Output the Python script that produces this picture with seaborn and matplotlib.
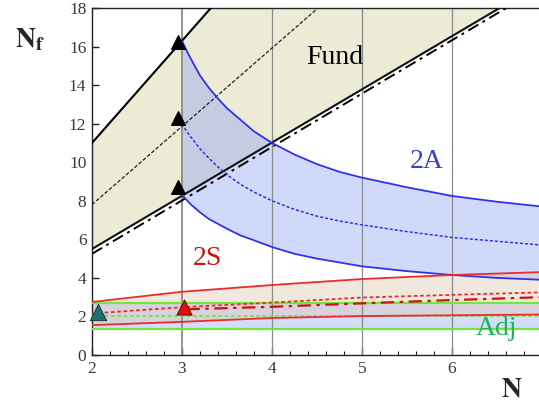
import numpy as np
import matplotlib
matplotlib.use("Agg")
import matplotlib.pyplot as plt
import seaborn as sns

# straight boundaries (Fund region)
n_lin = [2, 7]
fund_hi = [11.0, 37.5]
fund_mid = [7.8, 28.1]
fund_lo = [5.5, 19.3]
fund_bound = [5.25, 19.1]

# 2A curves
n_2a = [3, 3.05, 3.1, 3.2, 3.3, 3.4, 3.5, 3.65, 3.8, 4, 4.25, 4.5, 4.75, 5, 5.5, 6, 6.5, 7]
a_hi = [16.3, 15.8, 15.35, 14.5, 13.85, 13.3, 12.8, 12.2, 11.6, 11.0, 10.4, 9.9, 9.5, 9.2, 8.7, 8.25, 7.95, 7.7]
a_mid = [12.0, 11.6, 11.3, 10.7, 10.2, 9.75, 9.35, 8.85, 8.45, 8.0, 7.55, 7.2, 6.95, 6.75, 6.4, 6.1, 5.9, 5.7]
a_lo = [8.3, 8.05, 7.8, 7.4, 7.05, 6.8, 6.55, 6.2, 5.95, 5.6, 5.25, 5.0, 4.8, 4.6, 4.35, 4.15, 4.0, 3.9]

# 2S curves
n_s = [2, 3, 4, 5, 6, 7]
s_hi = [2.75, 3.28, 3.63, 3.94, 4.15, 4.3]
s_lo = [1.55, 1.72, 1.92, 2.02, 2.06, 2.1]
s_dash = [2.15, 2.48, 2.72, 2.98, 3.12, 3.25]
n_sdd = [3.05, 4, 5, 6, 7]
s_dd = [2.37, 2.5, 2.68, 2.85, 3.0]

# Adj lines
adj_hi = [2.72, 2.72]
adj_mid = [2.04, 2.04]
adj_lo = [1.35, 1.35]

# markers
tri_n = [2.96, 2.96, 2.96]
tri_nf = [16.25, 12.3, 8.7]
teal_pt = (2.07, 2.25)
red_pt = (3.02, 2.5)

x_ticks = [2, 3, 4, 5, 6, 7]
x_ticklabels = ['2', '3', '4', '5', '6', '']

sns.set_style("ticks")
plt.rcParams['font.family'] = ['Liberation Serif', 'DejaVu Serif']
plt.rcParams['mathtext.fontset'] = 'stix'

fig = plt.figure(figsize=(5.39, 4.08), dpi=100)
ax = fig.add_axes([92 / 539, 53 / 408, 450 / 539, 347 / 408])

# fills
ax.fill_between(n_lin, fund_lo, fund_hi, color='#ecebd5', lw=0, zorder=1)
ax.fill_between(n_2a, a_lo, a_hi, color='#7d92f5', alpha=0.35, lw=0, zorder=1)
ax.fill_between(n_lin, adj_lo, adj_hi, color='#7d92f5', alpha=0.33, lw=0, zorder=1)
ax.fill_between(n_s, s_lo, s_hi, color='#dcc6b0', alpha=0.42, lw=0, zorder=1)

for gx in [3, 4, 5, 6]:
    ax.axvline(gx, color='#8a8a8a', lw=1.3 if gx == 3 else 0.9, zorder=2)

# Fund lines
sns.lineplot(x=n_lin, y=fund_hi, ax=ax, color='black', lw=1.5, zorder=3)
sns.lineplot(x=n_lin, y=fund_mid, ax=ax, color='#222222', lw=0.9, linestyle=(0, (3, 1.5)), zorder=3)
sns.lineplot(x=n_lin, y=fund_lo, ax=ax, color='#111111', lw=1.5, zorder=3)
sns.lineplot(x=n_lin, y=fund_bound, ax=ax, color='black', lw=1.4, linestyle=(0, (6, 2.5, 1.5, 2.5)), zorder=3)

# 2A lines
sns.lineplot(x=n_2a, y=a_hi, ax=ax, color='#2f34e8', lw=1.3, zorder=3)
sns.lineplot(x=n_2a, y=a_mid, ax=ax, color='#2f34e8', lw=1.1, linestyle=(0, (2, 1.3)), zorder=3)
sns.lineplot(x=n_2a, y=a_lo, ax=ax, color='#2f34e8', lw=1.3, zorder=3)

# Adj lines
sns.lineplot(x=n_lin, y=adj_hi, ax=ax, color='#6fe83c', lw=1.6, zorder=3)
sns.lineplot(x=n_lin, y=adj_mid, ax=ax, color='#6fe83c', lw=1.3, linestyle=(0, (2, 1.5)), zorder=3)
sns.lineplot(x=n_lin, y=adj_lo, ax=ax, color='#6fe83c', lw=1.6, zorder=3)

# 2S lines
sns.lineplot(x=n_s, y=s_hi, ax=ax, color='#ee2a2a', lw=1.3, zorder=3)
sns.lineplot(x=n_s, y=s_lo, ax=ax, color='#ee2a2a', lw=1.3, zorder=3)
sns.lineplot(x=n_s, y=s_dash, ax=ax, color='#ee2a2a', lw=1.3, linestyle=(0, (2, 1.5)), zorder=3)
sns.lineplot(x=n_sdd, y=s_dd, ax=ax, color='#cc1111', lw=1.6, linestyle=(0, (6, 2.5, 1.5, 2.5)), zorder=3)

# triangles
ax.scatter(tri_n, tri_nf, marker='^', s=95, color='black', zorder=5)
ax.scatter([teal_pt[0]], [teal_pt[1]], marker='^', s=140, color='#1d7070',
           edgecolor='#0d3030', lw=0.6, zorder=5, clip_on=False)
ax.scatter([red_pt[0]], [red_pt[1]], marker='^', s=120, color='#dd1111',
           edgecolor='#550000', lw=0.6, zorder=5)

# region labels
ax.text(4.38, 15.1, 'Fund', fontsize=20, color='black', va='baseline', zorder=6)
ax.text(5.53, 9.7, '2A', fontsize=20, color='#3b3fc4', va='baseline', zorder=6)
ax.text(3.12, 4.67, '2S', fontsize=20, color='#cc1111', va='baseline', zorder=6)
ax.text(6.26, 1.04, 'Adj', fontsize=20, color='#22b455', va='baseline', zorder=6)

ax.set_xlim(2, 7)
ax.set_ylim(0, 18)
ax.set_xticks(x_ticks)
ax.set_xticklabels(x_ticklabels)
ax.set_xticks(np.arange(2, 7.01, 0.2), minor=True)
ax.set_yticks(range(0, 19, 2))
ax.tick_params(axis='both', which='major', direction='in', length=5, width=1,
               color='#222222', labelsize=12.5, labelcolor='#3a3a3a', pad=4)
ax.tick_params(axis='x', which='minor', direction='in', length=3, width=0.8, color='#222222')
ax.tick_params(axis='y', which='minor', left=False)
for side in ['left', 'bottom', 'top', 'right']:
    ax.spines[side].set_visible(True)
    ax.spines[side].set_color('#222222')
    ax.spines[side].set_linewidth(1.0)
ax.set_xlabel('')
ax.set_ylabel('')

fig.text(30 / 539, 1 - 40 / 408, r'$\mathbf{N}_\mathbf{f}$', fontsize=20, ha='center', va='center')
fig.text(512 / 539, 1 - 390 / 408, r'$\mathbf{N}$', fontsize=20, ha='center', va='center')

fig.savefig('out.png', dpi=100)
plt.close(fig)
